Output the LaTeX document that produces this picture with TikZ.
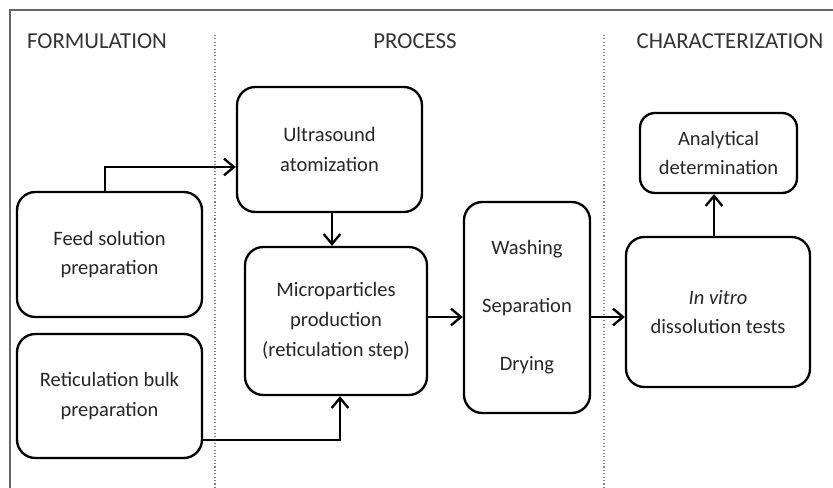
\documentclass[tikz,border=0pt]{standalone}
\usepackage{fontspec}
\setmainfont{Carlito}
\usetikzlibrary{arrows.meta,calc}

\begin{document}
\begin{tikzpicture}[x=0.03cm,y=-0.03cm,
    box/.style={draw, line width=2pt, rounded corners=0.55cm, align=center,
      inner sep=0pt, text=black!85, font=\fontsize{17.5}{25.5}\selectfont},
    arr/.style={line width=2pt, -{Straight Barb[length=3mm,width=5mm,line width=2pt]}},
    sep/.style={gray, dotted, line width=0.9pt},
    head/.style={font=\fontsize{19.5}{22}\selectfont, text=black!80}]

  \useasboundingbox (0,0) rectangle (833,488);

  % frame and column separators
  \draw[gray!80!black, line width=1.1pt] (10,488) -- (10,10) -- (833,10);
  \draw[sep] (215,35) -- (215,488);
  \draw[sep] (604,35) -- (604,488);

  \node[head] (hform) at (97,41) {FORMULATION};
  \node[head] (hproc) at (415,41) {PROCESS};
  \node[head] (hchar) at (730,41) {CHARACTERIZATION};

  % boxes
  \node[box, minimum width=5.55cm, minimum height=3.75cm] (feed) at (109.5,254.5)
    {Feed solution\\preparation};
  \node[box, minimum width=5.55cm, minimum height=3.72cm] (reti) at (109.5,396)
    {Reticulation bulk\\preparation};
  \node[box, minimum width=5.55cm, minimum height=3.75cm] (ultra) at (329.5,149.5)
    {Ultrasound\\atomization};
  \node[box, minimum width=5.46cm, minimum height=4.44cm] (micro) at (336,321)
    {Microparticles\\production\\(reticulation step)};
  \node[box, minimum width=3.78cm, minimum height=6.33cm, font=\fontsize{17.5}{49.4}\selectfont] (wash) at (527,307.5)
    {Washing\\Separation\\Drying};
  \node[box, minimum width=5.52cm, minimum height=4.5cm] (vitro) at (718,312)
    {\textit{In vitro}\\dissolution tests};
  \node[box, rounded corners=0.45cm, minimum width=4.71cm, minimum height=2.4cm] (anal) at (718.5,153)
    {Analytical\\determination};

  % connectors
  \coordinate (fu) at (105,167);
  \coordinate (um) at (332,0);
  \coordinate (rm) at (340,440);
  \coordinate (mw) at (0,317);
  \coordinate (va) at (714,0);

  \draw[arr] (feed.north -| fu) |- (fu -| ultra.west);
  \draw[arr] (ultra.south -| um) -- (micro.north -| um);
  \draw[arr] (reti.east |- rm) -| (micro.south -| rm);
  \draw[arr] (micro.east |- mw) -- (wash.west |- mw);
  \draw[arr] (wash.east |- mw) -- (vitro.west |- mw);
  \draw[arr] (vitro.north -| va) -- (anal.south -| va);

\end{tikzpicture}
\end{document}
